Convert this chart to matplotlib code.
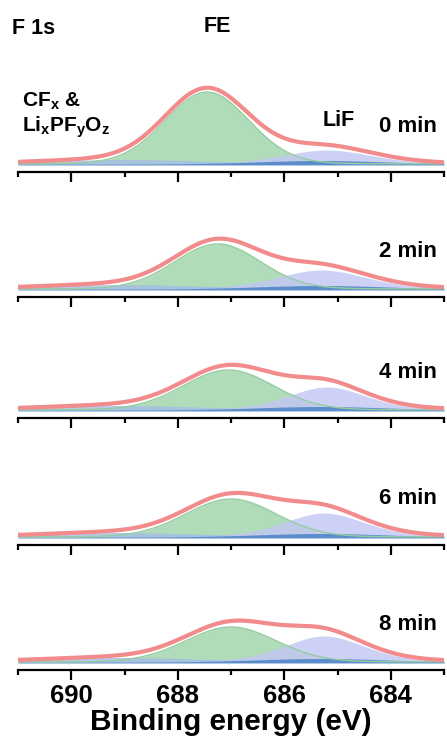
import matplotlib
matplotlib.use("Agg")
import matplotlib.pyplot as plt
import numpy as np

plt.rcParams['font.family'] = ['Liberation Sans', 'DejaVu Sans']
plt.rcParams['font.weight'] = 'bold'
plt.rcParams['mathtext.fontset'] = 'custom'
plt.rcParams['mathtext.rm'] = 'Liberation Sans:bold'
plt.rcParams['mathtext.it'] = 'Liberation Sans:bold'
plt.rcParams['mathtext.bf'] = 'Liberation Sans:bold'

# sputter times and fitted F 1s components (height, centre eV, FWHM eV)
times = ['0 min', '2 min', '4 min', '6 min', '8 min']
fe_height = [72, 45, 40, 38, 35]
fe_center = [687.45, 687.25, 687.05, 687.0, 687.0]
fe_fwhm = [1.85, 1.9, 2.0, 2.0, 2.0]
lif_height = [14, 19, 23, 24, 26]
lif_center = [685.2, 685.3, 685.2, 685.25, 685.25]
lif_fwhm = [2.0, 2.0, 1.75, 1.8, 1.8]
cfx_height = [4.5, 4.5, 4.5, 4.5, 4.5]
cfx_center = [689.0, 689.0, 689.0, 689.0, 689.0]
cfx_fwhm = [3.5, 3.5, 3.5, 3.5, 3.5]
lio_height = [3.5, 3.5, 3.5, 3.5, 3.5]
lio_center = [685.3, 685.3, 685.3, 685.3, 685.3]
lio_fwhm = [2.8, 2.8, 2.8, 2.8, 2.8]
background = 8

energy = np.linspace(691, 683, 400)


def pseudo_voigt(x, h, c, w, eta):
    g = np.exp(-4 * np.log(2) * ((x - c) / w) ** 2)
    l = 1 / (1 + 4 * ((x - c) / w) ** 2)
    return h * ((1 - eta) * g + eta * l)


fig = plt.figure(figsize=(4.47, 7.56), dpi=100)
W, H = 447, 756
spine_y = [172, 297, 418, 545, 670]
panel_h = 124

for i, t in enumerate(times):
    ax = fig.add_axes([18 / W, 1 - spine_y[i] / H, 426 / W, panel_h / H])
    cfx = pseudo_voigt(energy, cfx_height[i], cfx_center[i], cfx_fwhm[i], 0.0)
    lio = pseudo_voigt(energy, lio_height[i], lio_center[i], lio_fwhm[i], 0.0)
    fe = pseudo_voigt(energy, fe_height[i], fe_center[i], fe_fwhm[i], 0.05)
    lif = pseudo_voigt(energy, lif_height[i], lif_center[i], lif_fwhm[i], 0.3)
    total = background + cfx + lio + fe + lif

    ax.fill_between(energy, background, background + fe, color='#a9d9b2', lw=0, alpha=0.9)
    ax.plot(energy, background + fe, color='#95cca2', lw=1)
    ax.fill_between(energy, background, background + lif, color='#c2c6f4', lw=0, alpha=0.8)
    ax.fill_between(energy, background, background + cfx, color='#a4bde6', lw=0, alpha=0.8)
    ax.fill_between(energy, background - 1, background + lio, color='#4a82c6', lw=0, alpha=0.85)
    ax.plot(energy, total, color='#f28b8b', lw=3, solid_capstyle='round')

    ax.set_xlim(691, 683)
    ax.set_ylim(0, panel_h)
    ax.patch.set_alpha(0)
    for s in ['top', 'left', 'right']:
        ax.spines[s].set_visible(False)
    ax.spines['bottom'].set_linewidth(1.6)
    ax.set_yticks([])
    ax.set_xticks([690, 688, 686, 684])
    ax.set_xticks([691, 689, 687, 685, 683], minor=True)
    ax.tick_params(axis='x', which='major', length=7, width=1.6, direction='out')
    ax.tick_params(axis='x', which='minor', length=3.5, width=1.6, direction='out')
    if i < len(times) - 1:
        ax.set_xticklabels([])
    else:
        ax.tick_params(axis='x', which='major', labelsize=18.5, pad=3)
        ax.set_xlabel('Binding energy (eV)', fontsize=21.5, fontweight='bold', labelpad=0)

    fig.text(437 / W, 1 - (spine_y[i] - 46) / H, t, ha='right', va='center', fontsize=16)

fig.text(12 / W, 1 - 28 / H, 'F 1s', ha='left', va='center', fontsize=15.5)
fig.text(217 / W, 1 - 26 / H, 'FE', ha='center', va='center', fontsize=15.5)
fig.text(22 / W, 1 - 101 / H, r'CF$_x$ &', ha='left', va='center', fontsize=15)
fig.text(22 / W, 1 - 127 / H, r'Li$_x$PF$_y$O$_z$', ha='left', va='center', fontsize=15)
fig.text(323 / W, 1 - 120 / H, 'LiF', ha='left', va='center', fontsize=15.5)

fig.savefig('out.png', dpi=100)
